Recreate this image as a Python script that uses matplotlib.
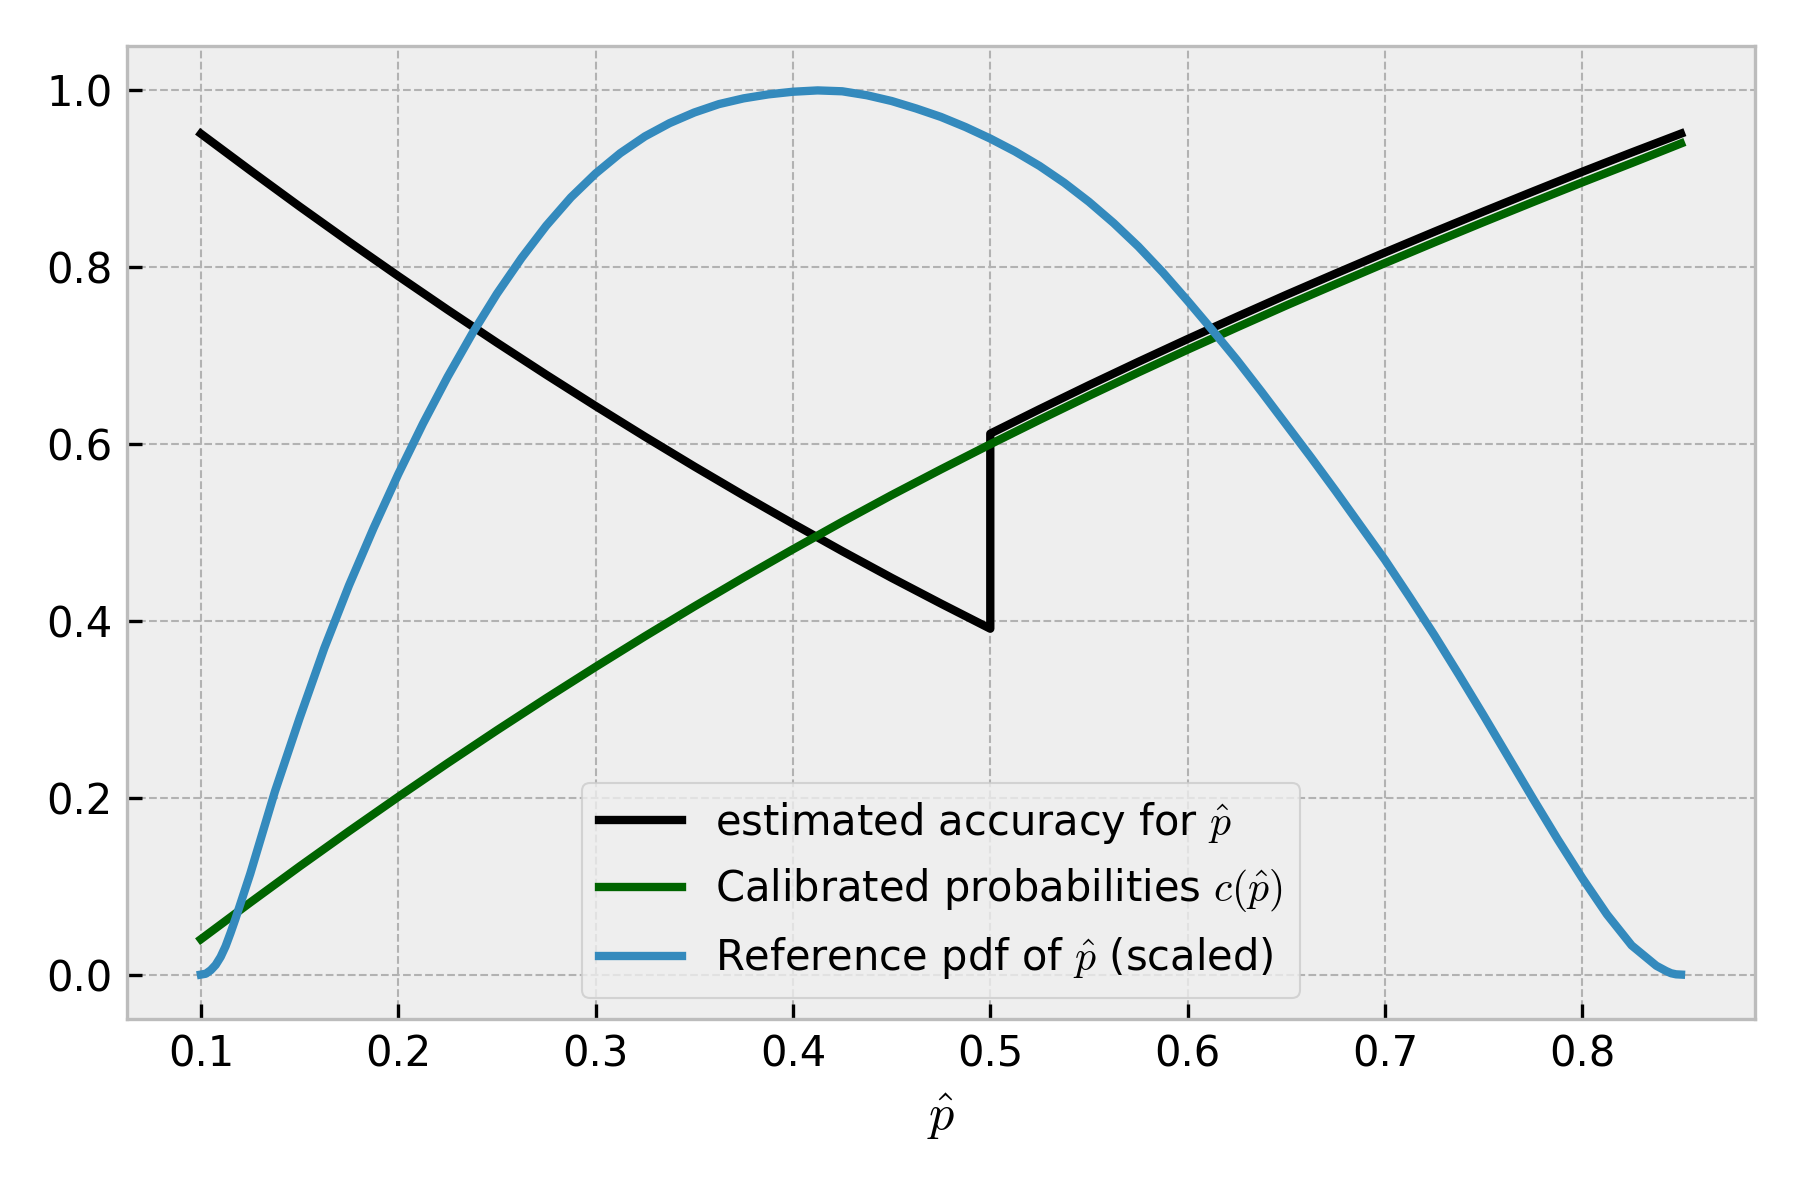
import numpy as np
import matplotlib
matplotlib.use("Agg")
import matplotlib.pyplot as plt

plt.style.use("bmh")
plt.rcParams["mathtext.fontset"] = "cm"

# estimated accuracy (black), jump at p = 0.5
acc_p = [0.100, 0.125, 0.150, 0.175, 0.200, 0.225, 0.250, 0.275, 0.300, 0.325, 0.350,
         0.375, 0.400, 0.425, 0.450, 0.475, 0.500,
         0.500, 0.525, 0.550, 0.575, 0.600, 0.625, 0.650, 0.675, 0.700, 0.725, 0.750,
         0.775, 0.800, 0.825, 0.850]
acc_v = [0.9510, 0.9095, 0.8687, 0.8289, 0.7900, 0.7519, 0.7147, 0.6784, 0.6430, 0.6084,
         0.5747, 0.5419, 0.5100, 0.4789, 0.4487, 0.4196, 0.3912,
         0.6118, 0.6395, 0.6666, 0.6930, 0.7188, 0.7440, 0.7688, 0.7929, 0.8167, 0.8401,
         0.8631, 0.8857, 0.9080, 0.9298, 0.9511]

# calibrated probabilities c(p) (green)
cal_p = [0.100, 0.125, 0.150, 0.175, 0.200, 0.225, 0.250, 0.275, 0.300, 0.325, 0.350,
         0.375, 0.400, 0.425, 0.450, 0.475, 0.500, 0.525, 0.550, 0.575, 0.600, 0.625,
         0.650, 0.675, 0.700, 0.725, 0.750, 0.775, 0.800, 0.825, 0.850]
cal_v = [0.0400, 0.0815, 0.1223, 0.1621, 0.2010, 0.2391, 0.2763, 0.3126, 0.3480, 0.3826,
         0.4163, 0.4491, 0.4810, 0.5121, 0.5423, 0.5714, 0.5998, 0.6275, 0.6546, 0.6810,
         0.7068, 0.7320, 0.7568, 0.7809, 0.8047, 0.8281, 0.8511, 0.8737, 0.8960, 0.9178,
         0.9400]

# reference pdf, scaled to max 1 (blue)
pdf_p = [0.1000, 0.1025, 0.1050, 0.1075, 0.1100, 0.1125, 0.1150, 0.1175, 0.1200, 0.1250,
         0.1375, 0.1500, 0.1625, 0.1750, 0.1875, 0.2000, 0.2125, 0.2250, 0.2375, 0.2500,
         0.2625, 0.2750, 0.2875, 0.3000, 0.3125, 0.3250, 0.3375, 0.3500, 0.3625, 0.3750,
         0.3875, 0.4000, 0.4125, 0.4250, 0.4375, 0.4500, 0.4625, 0.4750, 0.4875, 0.5000,
         0.5125, 0.5250, 0.5375, 0.5500, 0.5625, 0.5750, 0.5875, 0.6000, 0.6125, 0.6250,
         0.6375, 0.6500, 0.6625, 0.6750, 0.6875, 0.7000, 0.7125, 0.7250, 0.7375, 0.7500,
         0.7625, 0.7750, 0.7875, 0.8000, 0.8125, 0.8250, 0.8375, 0.8425, 0.8450, 0.8475,
         0.8500]
pdf_v = [0.000, 0.001, 0.005, 0.011, 0.020, 0.032, 0.047, 0.063, 0.080, 0.114,
         0.207, 0.290, 0.369, 0.440, 0.505, 0.566, 0.623, 0.676, 0.725, 0.770,
         0.8105, 0.847, 0.879, 0.906, 0.929, 0.948, 0.963, 0.975, 0.9845, 0.991,
         0.9955, 0.9985, 1.000, 0.999, 0.9945, 0.988, 0.9795, 0.970, 0.9585, 0.9455,
         0.931, 0.9145, 0.8955, 0.874, 0.850, 0.8235, 0.794, 0.762, 0.729, 0.695,
         0.659, 0.622, 0.585, 0.547, 0.508, 0.469, 0.427, 0.384, 0.339, 0.293,
         0.246, 0.199, 0.153, 0.109, 0.068, 0.033, 0.010, 0.004, 0.0015, 0.0003,
         0.000]

fig, ax = plt.subplots(figsize=(6, 4), dpi=300)
ax.set_facecolor("#eeeeee")
ax.grid(True, color="#b2b2b2", linestyle="--", linewidth=0.5)
for s in ax.spines.values():
    s.set_color("#bcbcbc")

ax.plot(acc_p, acc_v, color="k", lw=2, label=r"estimated accuracy for $\hat{p}$")
ax.plot(cal_p, cal_v, color="darkgreen", lw=2, label=r"Calibrated probabilities $c(\hat{p})$")
ax.plot(pdf_p, pdf_v, color="#348ABD", lw=2, label=r"Reference pdf of $\hat{p}$ (scaled)")

ax.set_xlabel(r"$\hat{p}$")
ax.legend(loc="lower center")

fig.subplots_adjust(left=0.0705, right=0.975, top=0.9615, bottom=0.151)
fig.savefig("out.png", dpi=300)
